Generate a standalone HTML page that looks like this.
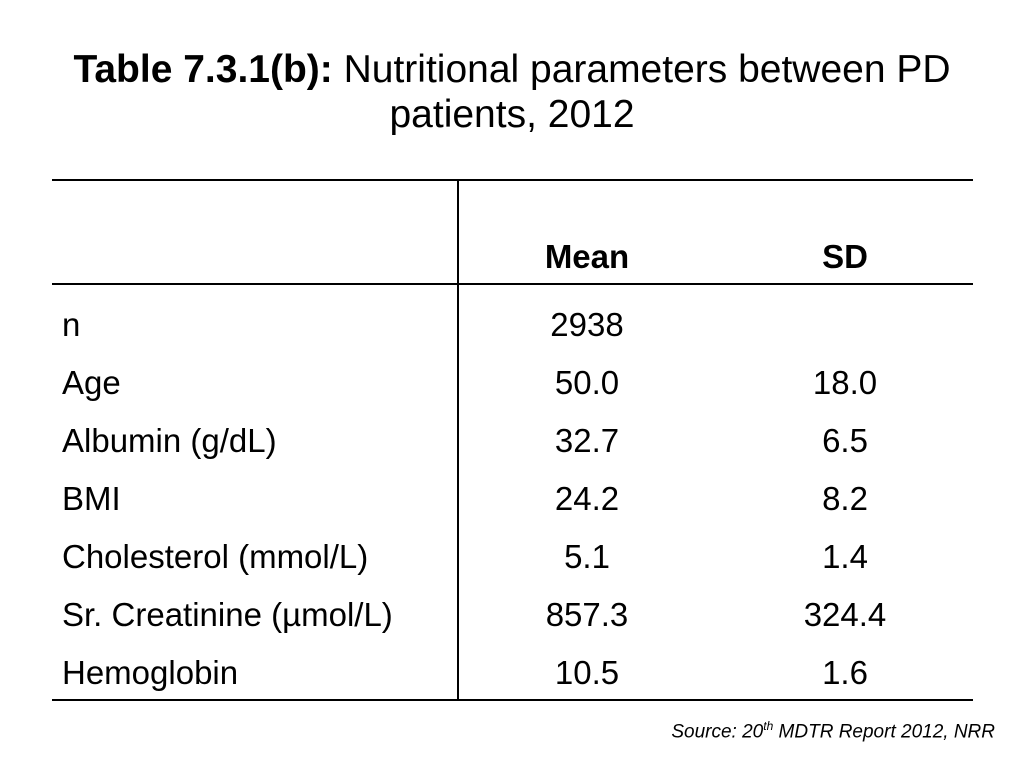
<!DOCTYPE html>
<html><head><meta charset="utf-8"><style>
body{margin:0;width:1024px;height:768px;background:#fff;position:relative;font-family:"Liberation Sans",sans-serif;color:#000;overflow:hidden}
.t{position:absolute;left:0;width:1024px;text-align:center;font-size:39px;line-height:45px}
.ln{position:absolute;background:#000}
.c{position:absolute;font-size:33px;line-height:40px;white-space:nowrap}
.ctr{transform:translateX(-50%)}
</style></head><body>
<div class="t" style="top:47px"><b>Table 7.3.1(b):</b> Nutritional parameters between PD</div>
<div class="t" style="top:92px">patients, 2012</div>
<div class="ln" style="left:52px;top:179px;width:921px;height:2px"></div>
<div class="ln" style="left:52px;top:283px;width:921px;height:2px"></div>
<div class="ln" style="left:52px;top:699px;width:921px;height:2px"></div>
<div class="ln" style="left:457px;top:180px;width:2px;height:520px"></div>
<div class="c ctr" style="left:587px;top:237px;font-weight:bold">Mean</div>
<div class="c ctr" style="left:845px;top:237px;font-weight:bold">SD</div>
<div id="rows"></div>
<div style="position:absolute;right:29px;top:719px;font-size:19px;font-style:italic">Source: 20<sup style="font-size:12px">th</sup> MDTR Report 2012, NRR</div>
<script>
const labels=["n","Age","Albumin (g/dL)","BMI","Cholesterol (mmol/L)","Sr. Creatinine (µmol/L)","Hemoglobin"];
const means=["2938","50.0","32.7","24.2","5.1","857.3","10.5"];
const sds=["","18.0","6.5","8.2","1.4","324.4","1.6"];
const root=document.getElementById('rows');
labels.forEach((l,i)=>{
  const top=305+i*58;
  const a=document.createElement('div');a.className='c';a.style.left='62px';a.style.top=top+'px';a.textContent=l;
  
  
  root.appendChild(a);
  const m=document.createElement('div');m.className='c ctr';m.style.left='587px';m.style.top=top+'px';m.textContent=means[i];
  
  
  root.appendChild(m);
  const s=document.createElement('div');s.className='c ctr';s.style.left='845px';s.style.top=top+'px';s.textContent=sds[i];
  
  
  root.appendChild(s);
});
</script>
</body></html>
